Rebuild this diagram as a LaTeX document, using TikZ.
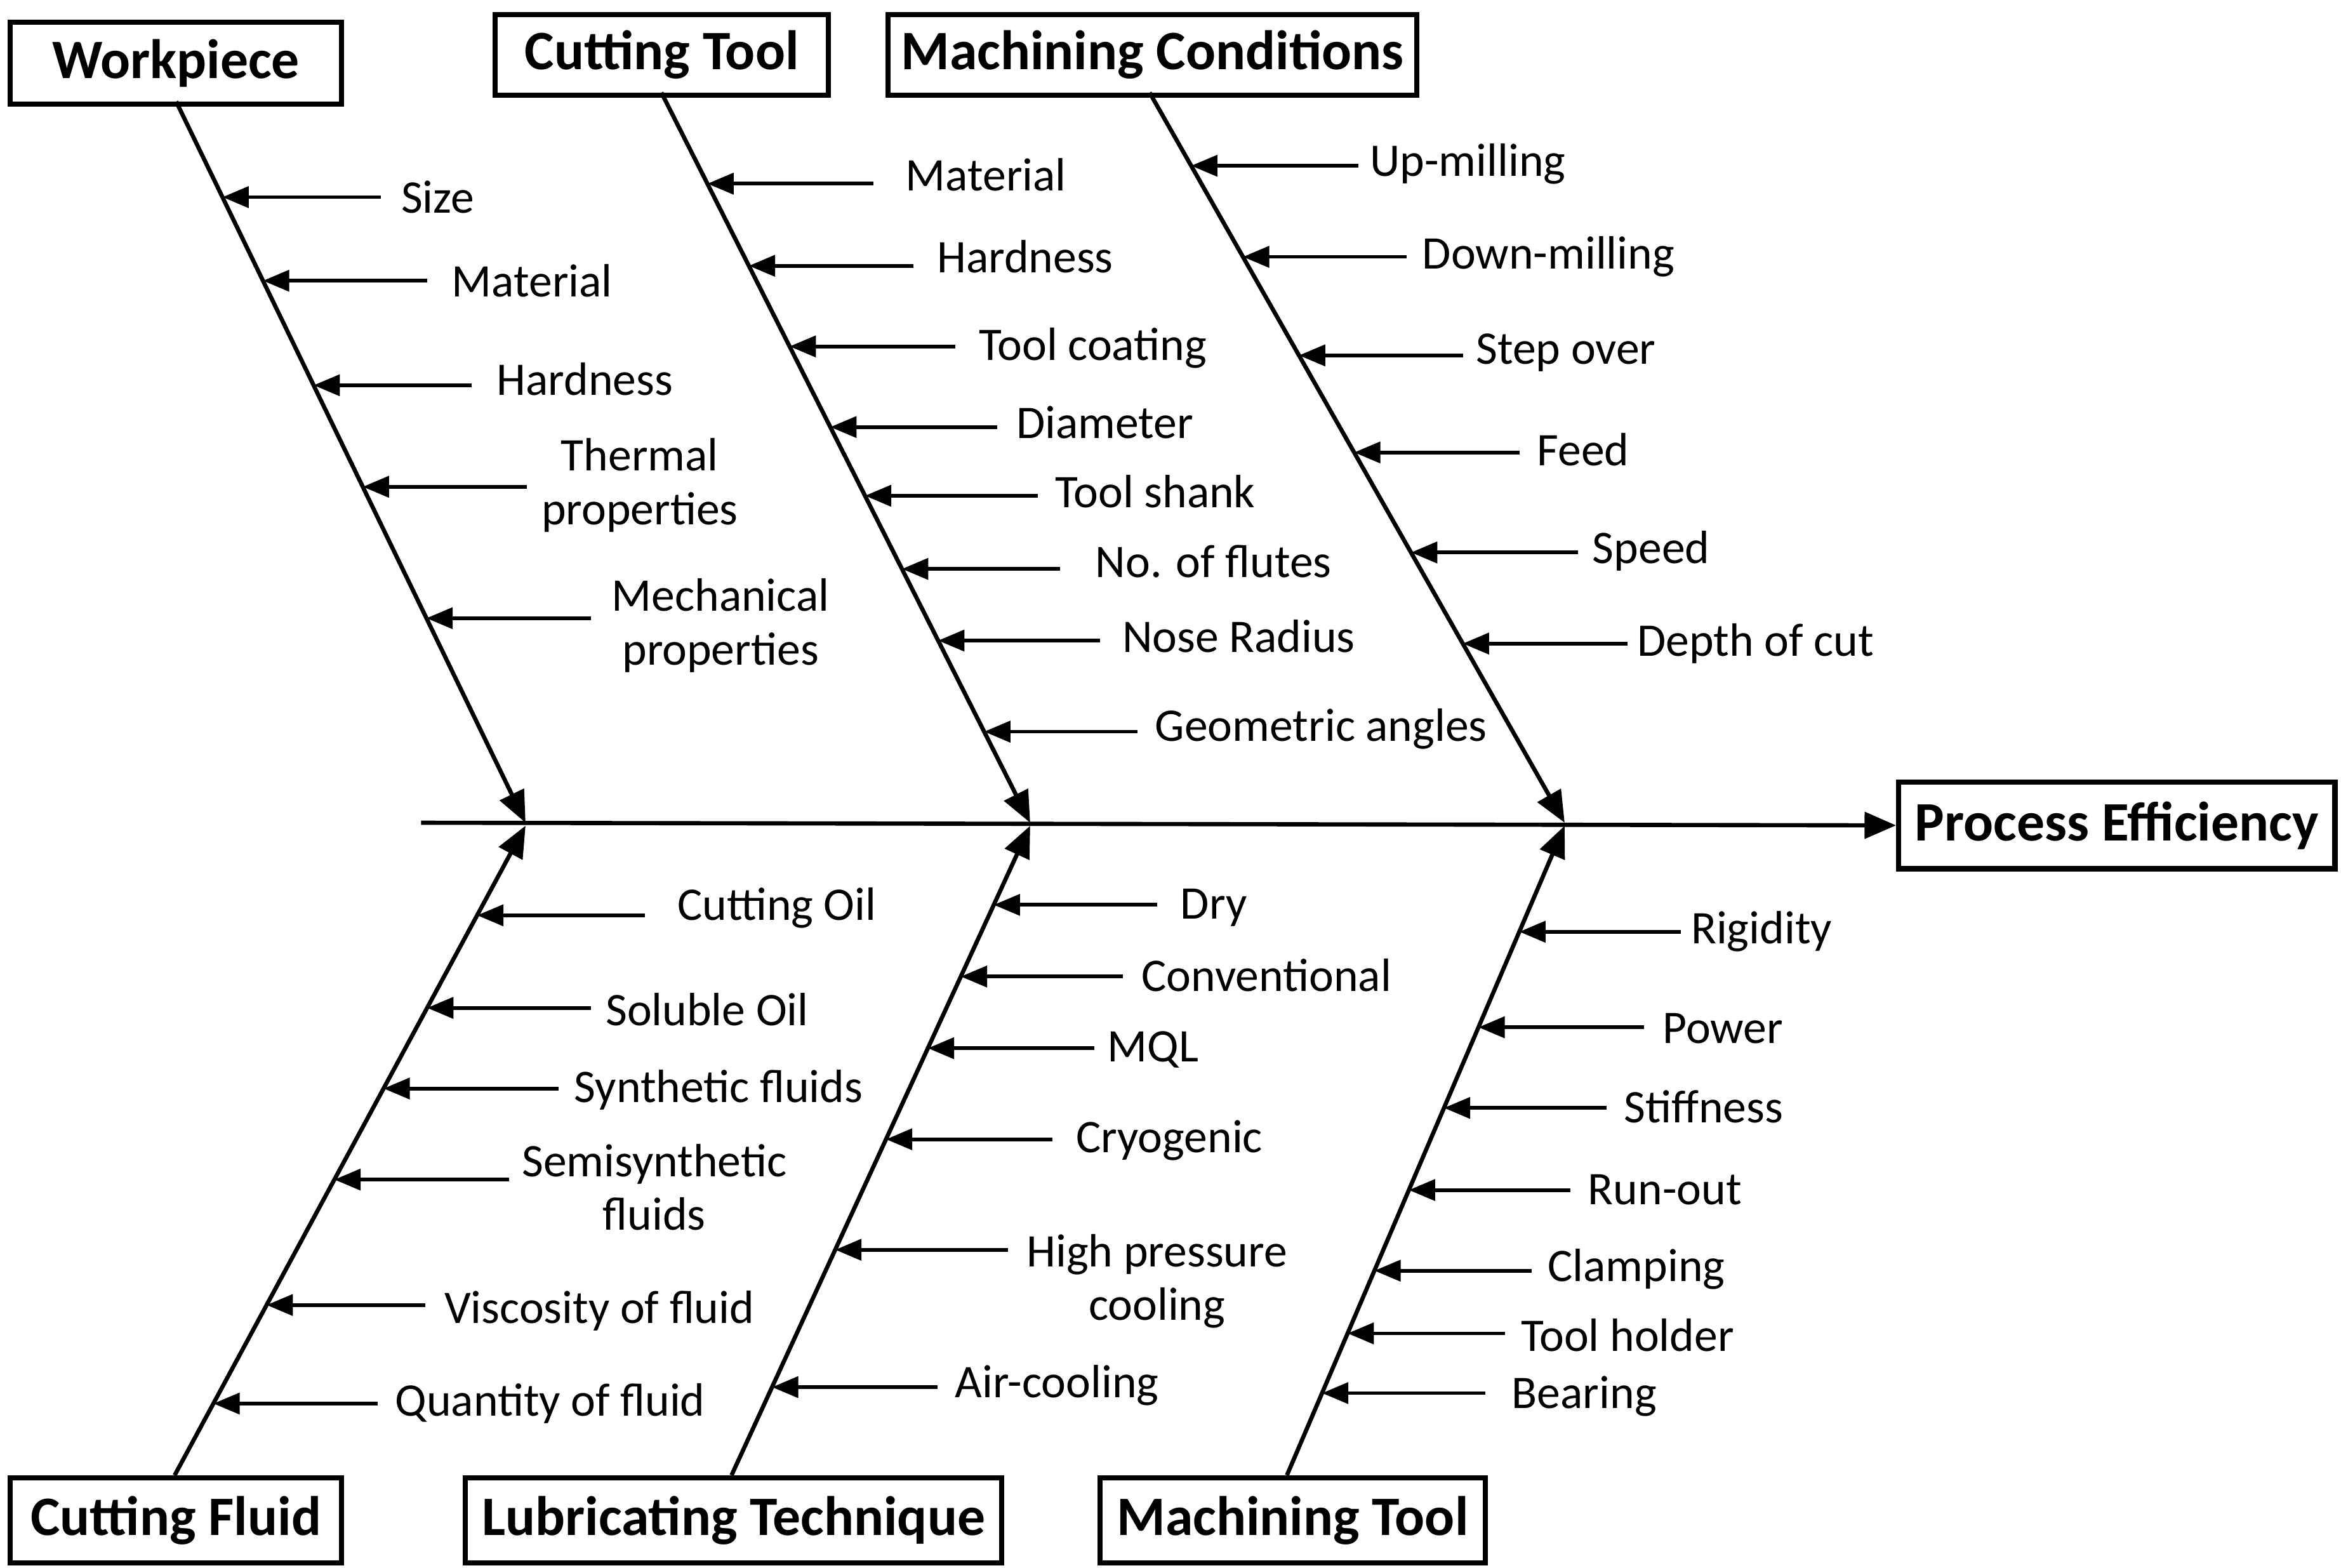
\documentclass[tikz,border=0pt]{standalone}
\usepackage{fontspec}
\setmainfont{Carlito}
\usetikzlibrary{arrows.meta}
\begin{document}
\begin{tikzpicture}[x=0.01cm,y=-0.01cm,
  box/.style={draw,line width=1pt,font=\bfseries\fontsize{10.6}{12}\selectfont,inner sep=0pt,anchor=north west},
  lbl/.style={font=\fontsize{8.9}{10.2}\selectfont,anchor=west,inner sep=0pt,align=center},
  arr/.style={line width=0.7pt,-{Triangle[length=5pt,width=4pt]}},
  bone/.style={line width=0.8pt,-{Triangle[length=6pt,width=5pt]}}]
\useasboundingbox (0,0) rectangle (1568,1050);
% boxes
\node[box,minimum width=2.22cm,minimum height=0.55cm] (wp) at (5,13) {Workpiece};
\node[box,minimum width=2.23cm,minimum height=0.54cm] (ct) at (330,8) {Cutting Tool};
\node[box,minimum width=3.54cm,minimum height=0.54cm] (mc) at (593,8) {Machining Conditions};
\node[box,minimum width=2.92cm,minimum height=0.58cm] (pe) at (1270,522) {Process Efficiency};
\node[box,minimum width=2.22cm,minimum height=0.57cm] (cf) at (5,988) {Cutting Fluid};
\node[box,minimum width=3.59cm,minimum height=0.57cm] (lt) at (310,988) {Lubricating Technique};
\node[box,minimum width=2.58cm,minimum height=0.57cm] (mt) at (735,988) {Machining Tool};
% spine
\coordinate (s0) at (282,551);
\draw[bone] (s0) -- (pe.west);
% bones
\coordinate (w0) at (118,68); \coordinate (w1) at (352,551);
\coordinate (c0) at (443,62); \coordinate (c1) at (690,551);
\coordinate (m0) at (770,62); \coordinate (m1) at (1048,551);
\coordinate (f0) at (117,988); \coordinate (f1) at (352,553);
\coordinate (l0) at (490,988); \coordinate (l1) at (690,553);
\coordinate (t0) at (862,988); \coordinate (t1) at (1048,553);
\foreach \a in {w,c,m,f,l,t} \draw[bone] (\a0) -- (\a1);
\newcommand\mybranches[5]{%
 \foreach \yy/\xs/\xt/\ty/\txt in {#5}{%
  \pgfmathsetmacro\bx{#1+(#3-#1)/(#4-#2)*(\yy-#2)}
  \coordinate (b-\xs-\yy) at (\bx,\yy);
  \node[lbl] (n-\xs-\yy) at (\xt,\ty) {\txt};
  \draw[arr] (\xs,\yy) -- (b-\xs-\yy);
 }}
\mybranches{118}{68}{352}{551}{132/255/268/132/Size,188/286/302/188/Material,258/316/332/254/Hardness,326/353/362/325/{Thermal\\properties},414/396/409/419/{Mechanical\\properties}}
\mybranches{443}{62}{690}{551}{123/585/606/117/Material,178/612/627/172/Hardness,232/640/655/233/Tool coating,286/668/680/283/Diameter,332/695/706/329/Tool shank,381/710/733/376/No. of flutes,429/737/751/426/Nose Radius,490/762/773/488/Geometric angles}
\mybranches{770}{62}{1048}{551}{111/910/917/110/Up-milling,172/942/952/172/Down-milling,238/980/988/236/Step over,303/1018/1029/301/Feed,370/1057/1066/369/Speed,431/1090/1096/431/Depth of cut}
\mybranches{117}{988}{352}{553}{613/432/453/608/Cutting Oil,675/396/405/676/Soluble Oil,729/374/384/730/Synthetic fluids,790/341/349/795/{Semisynthetic\\fluids},874/285/297/878/Viscosity of fluid,940/253/264/940/Quantity of fluid}
\mybranches{490}{988}{690}{553}{606/775/790/608/Dry,654/752/764/653/Conventional,702/733/741/703/MQL,763/705/720/764/Cryogenic,837/675/687/858/{High pressure\\cooling},929/628/639/928/Air-cooling}
\mybranches{862}{988}{1048}{553}{624/1126/1132/624/Rigidity,688/1101/1113/689/Power,742/1076/1087/741/Stiffness,797/1052/1063/797/Run-out,851/1026/1036/850/Clamping,893/1008/1018/894/Tool holder,933/995/1012/935/Bearing}
\end{tikzpicture}
\end{document}
